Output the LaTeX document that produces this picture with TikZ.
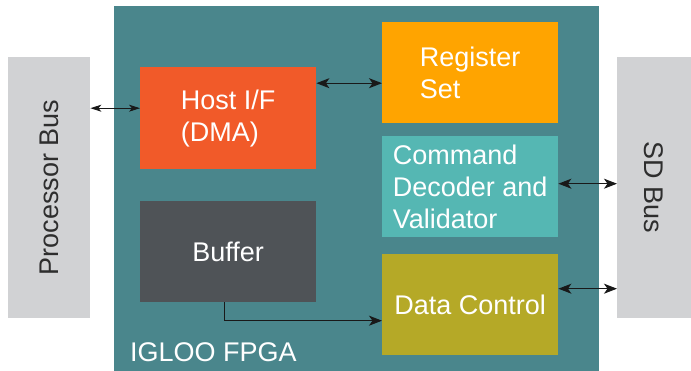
\documentclass[tikz,border=0pt]{standalone}
\usepackage{fontspec}
\setmainfont{Liberation Sans}
\usepackage{xcolor}
\usetikzlibrary{arrows.meta,positioning}

\definecolor{fpgateal}{HTML}{4A868C}
\definecolor{busgray}{HTML}{D1D2D4}
\definecolor{hostorange}{HTML}{F15A29}
\definecolor{regyellow}{HTML}{FFA400}
\definecolor{cmdcyan}{HTML}{55B7B3}
\definecolor{dataolive}{HTML}{B5A927}
\definecolor{bufgray}{HTML}{4F5357}
\definecolor{bustext}{HTML}{2E2E2E}

\tikzset{
	blk/.style={anchor=north west, inner sep=0pt, minimum width=176pt, minimum height=101pt, text=white, align=left, font=\fontsize{27}{32}\selectfont},
	bus/.style={anchor=north west, fill=busgray, inner sep=0pt, minimum height=261pt, text=bustext, font=\fontsize{27}{32}\selectfont},
	link/.style={draw=black!90, line width=1.2pt, {Stealth[length=13pt,width=10pt,inset=3.5pt]}-{Stealth[length=13pt,width=10pt,inset=3.5pt]}},
}

\begin{document}
\begin{tikzpicture}[x=1pt, y=-1pt]
			\useasboundingbox (0,0) rectangle (691,371);
			\fill[fpgateal] (114,6) rectangle (599,371);
			% buses on both sides
			\node[bus, minimum width=82pt] (pbus) at (8,57) {};
			\node[rotate=90, text=bustext, font=\fontsize{27}{32}\selectfont] at (pbus.center) {Processor Bus};
			\node[bus, minimum width=74pt] (sdbus) at (617,57) {};
			\node[rotate=-90, text=bustext, font=\fontsize{27}{32}\selectfont] at (sdbus.center) {SD Bus};
			% blocks inside the FPGA
			\node[blk, fill=hostorange, minimum height=102pt] (hostif) at (140,67) {Host I/F\\(DMA)};
			\node[blk, fill=regyellow] (reg) at (382,22) {Register\\Set};
			\node[blk, fill=cmdcyan] (cmd) at (382,136) {Command\\Decoder and\\Validator};
			\node[blk, fill=bufgray] (buf) at (140,201) {Buffer};
			\node[blk, fill=dataolive] (data) at (382,254) {Data Control};
			\node[anchor=south west, inner sep=0pt, text=white, font=\fontsize{27}{32}\selectfont] (fpga) at (130,362) {IGLOO FPGA};
			% connections
			\draw[link, line width=0.9pt, {Stealth[length=11pt,width=7pt,inset=3pt]}-{Stealth[length=11pt,width=7pt,inset=3pt]}] ([yshift=10pt]hostif.west -| pbus.east) -- ([yshift=10pt]hostif.west);
			\draw[link] ([yshift=35pt]hostif.east) -- ([yshift=35pt]hostif.east -| reg.west);
			\draw[link] ([yshift=3pt]cmd.east) -- ([yshift=3pt]cmd.east -| sdbus.west);
			\draw[link] ([yshift=16pt]data.east) -- ([yshift=16pt]data.east -| sdbus.west);
			\draw[draw=black!90, line width=1.2pt, -{Stealth[length=13pt,width=10pt,inset=3.5pt]}] ([xshift=-4pt]buf.south) |- ([yshift=-16pt]data.west);
		\end{tikzpicture}
\end{document}
